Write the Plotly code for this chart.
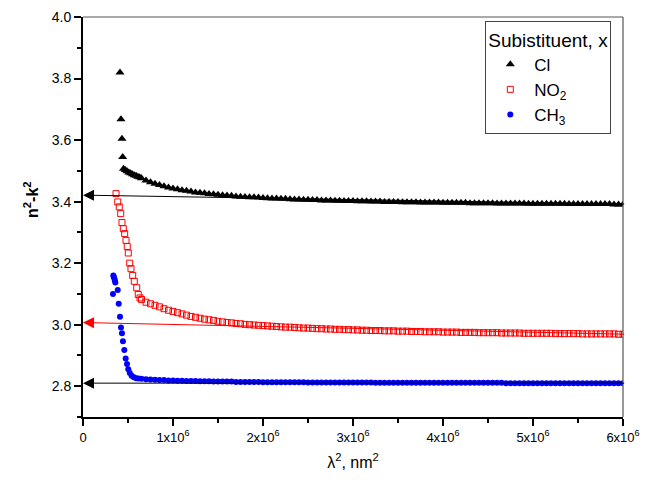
import plotly.graph_objects as go

# ---------------- data (x in units of 1e6 nm^2) ----------------
tail_x = [0.65, 0.70, 0.75, 0.80, 0.85, 0.90, 0.95, 1.00, 1.05, 1.10,
          1.15, 1.20, 1.25, 1.30, 1.35, 1.40, 1.45, 1.50, 1.55, 1.60,
          1.65, 1.70, 1.75, 1.80, 1.85, 1.90, 1.95, 2.00, 2.05, 2.10,
          2.15, 2.20, 2.25, 2.30, 2.35, 2.40, 2.45, 2.50, 2.55, 2.60,
          2.65, 2.70, 2.75, 2.80, 2.85, 2.90, 2.95, 3.00, 3.05, 3.10,
          3.15, 3.20, 3.25, 3.30, 3.35, 3.40, 3.45, 3.50, 3.55, 3.60,
          3.65, 3.70, 3.75, 3.80, 3.85, 3.90, 3.95, 4.00, 4.05, 4.10,
          4.15, 4.20, 4.25, 4.30, 4.35, 4.40, 4.45, 4.50, 4.55, 4.60,
          4.65, 4.70, 4.75, 4.80, 4.85, 4.90, 4.95, 5.00, 5.05, 5.10,
          5.15, 5.20, 5.25, 5.30, 5.35, 5.40, 5.45, 5.50, 5.55, 5.60,
          5.65, 5.70, 5.75, 5.80, 5.85, 5.90, 5.95, 6.00]

cl_head_x = [0.411, 0.422, 0.433, 0.441, 0.45, 0.47, 0.49, 0.51, 0.53, 0.55, 0.57, 0.59, 0.61, 0.63]
cl_head_y = [3.820, 3.668, 3.604, 3.545, 3.507, 3.503, 3.499, 3.495, 3.492, 3.489, 3.486, 3.484, 3.481, 3.479]
cl_tail_y = [3.476, 3.469, 3.463, 3.458, 3.454, 3.450, 3.446, 3.443, 3.440, 3.437,
             3.435, 3.433, 3.430, 3.429, 3.427, 3.425, 3.424, 3.422, 3.421, 3.420,
             3.419, 3.417, 3.416, 3.415, 3.414, 3.414, 3.413, 3.412, 3.411, 3.410,
             3.410, 3.409, 3.409, 3.408, 3.407, 3.407, 3.406, 3.406, 3.405, 3.405,
             3.404, 3.404, 3.404, 3.403, 3.403, 3.402, 3.402, 3.402, 3.401, 3.401,
             3.401, 3.400, 3.400, 3.400, 3.399, 3.399, 3.399, 3.399, 3.398, 3.398,
             3.398, 3.398, 3.397, 3.397, 3.397, 3.397, 3.397, 3.396, 3.396, 3.396,
             3.396, 3.396, 3.396, 3.395, 3.395, 3.395, 3.395, 3.395, 3.395, 3.394,
             3.394, 3.394, 3.394, 3.394, 3.394, 3.394, 3.393, 3.393, 3.393, 3.393,
             3.393, 3.393, 3.393, 3.393, 3.393, 3.392, 3.392, 3.392, 3.392, 3.392,
             3.392, 3.392, 3.392, 3.392, 3.392, 3.391, 3.391, 3.391]

no2_head_x = [0.367, 0.386, 0.403, 0.419, 0.433, 0.448, 0.463, 0.478, 0.492, 0.503,
              0.519, 0.533, 0.552, 0.570, 0.597, 0.614, 0.633]
no2_head_y = [3.426, 3.399, 3.383, 3.361, 3.332, 3.312, 3.296, 3.274, 3.254, 3.233,
              3.200, 3.182, 3.160, 3.141, 3.120, 3.098, 3.087]
no2_tail_y = [3.082, 3.073, 3.068, 3.063, 3.058, 3.052, 3.047, 3.043, 3.039, 3.035,
              3.031, 3.027, 3.024, 3.021, 3.018, 3.016, 3.014, 3.011, 3.009, 3.007,
              3.006, 3.004, 3.003, 3.001, 3.000, 2.999, 2.998, 2.997, 2.996, 2.995,
              2.994, 2.993, 2.992, 2.992, 2.991, 2.990, 2.989, 2.989, 2.988, 2.987,
              2.987, 2.986, 2.986, 2.985, 2.985, 2.984, 2.984, 2.983, 2.983, 2.982,
              2.982, 2.981, 2.981, 2.981, 2.980, 2.980, 2.980, 2.979, 2.979, 2.979,
              2.978, 2.978, 2.978, 2.977, 2.977, 2.977, 2.977, 2.976, 2.976, 2.976,
              2.976, 2.975, 2.975, 2.975, 2.975, 2.974, 2.974, 2.974, 2.974, 2.974,
              2.973, 2.973, 2.973, 2.973, 2.973, 2.972, 2.972, 2.972, 2.972, 2.972,
              2.972, 2.972, 2.971, 2.971, 2.971, 2.971, 2.971, 2.971, 2.970, 2.970,
              2.970, 2.970, 2.970, 2.970, 2.970, 2.970, 2.969, 2.969]

ch3_head_x = [0.337, 0.342, 0.348, 0.354, 0.359, 0.386, 0.333, 0.397, 0.411, 0.422,
              0.433, 0.444, 0.459, 0.474, 0.489, 0.503, 0.520, 0.540, 0.565, 0.590, 0.615]
ch3_head_y = [3.160, 3.156, 3.150, 3.144, 3.137, 3.113, 3.100, 3.068, 3.026, 2.991,
              2.972, 2.946, 2.918, 2.890, 2.872, 2.855, 2.843, 2.834, 2.829, 2.826, 2.825]
ch3_tail_y = [2.824, 2.823, 2.822, 2.821, 2.820, 2.820, 2.819, 2.819, 2.818, 2.818,
              2.817, 2.817, 2.817, 2.816, 2.816, 2.816, 2.815, 2.815, 2.815, 2.815,
              2.815, 2.814, 2.814, 2.814, 2.814, 2.814, 2.814, 2.813, 2.813, 2.813,
              2.813, 2.813, 2.813, 2.813, 2.813, 2.813, 2.813, 2.812, 2.812, 2.812,
              2.812, 2.812, 2.812, 2.812, 2.812, 2.812, 2.812, 2.812, 2.812, 2.812,
              2.812, 2.812, 2.811, 2.811, 2.811, 2.811, 2.811, 2.811, 2.811, 2.811,
              2.811, 2.811, 2.811, 2.811, 2.811, 2.811, 2.811, 2.811, 2.811, 2.811,
              2.811, 2.811, 2.811, 2.811, 2.811, 2.811, 2.811, 2.811, 2.811, 2.811,
              2.811, 2.810, 2.810, 2.810, 2.810, 2.810, 2.810, 2.810, 2.810, 2.810,
              2.810, 2.810, 2.810, 2.810, 2.810, 2.810, 2.810, 2.810, 2.810, 2.810,
              2.810, 2.810, 2.810, 2.810, 2.810, 2.810, 2.810, 2.810]

# extrapolation arrows: value at right end -> value at the axis
arrow_y_left = [3.421, 3.007, 2.810]
arrow_y_right = [3.392, 2.969, 2.810]
arrow_colors = ["black", "red", "black"]

x_tick_vals = [0, 1, 2, 3, 4, 5, 6]
x_tick_text = ["0", "1x10<sup>6</sup>", "2x10<sup>6</sup>", "3x10<sup>6</sup>",
               "4x10<sup>6</sup>", "5x10<sup>6</sup>", "6x10<sup>6</sup>"]
x_minor_vals = [0.5, 1.5, 2.5, 3.5, 4.5, 5.5]

E6 = 1e6
FONT = "Liberation Sans, Arial, sans-serif"

fig = go.Figure()
fig.add_trace(go.Scatter(
    x=[v * E6 for v in cl_head_x + tail_x], y=cl_head_y + cl_tail_y,
    mode="markers", name="Cl",
    marker=dict(symbol="triangle-up", size=8, color="black", line=dict(width=0))))
fig.add_trace(go.Scatter(
    x=[v * E6 for v in no2_head_x + tail_x], y=no2_head_y + no2_tail_y,
    mode="markers", name="NO<sub>2</sub>",
    marker=dict(symbol="square-open", size=6, color="#ff0000", line=dict(width=1, color="#ff0000"))))
fig.add_trace(go.Scatter(
    x=[v * E6 for v in ch3_head_x + tail_x], y=ch3_head_y + ch3_tail_y,
    mode="markers", name="CH<sub>3</sub>",
    marker=dict(symbol="circle", size=6, color="#0000ff", line=dict(width=0))))

for yl, yr, c in zip(arrow_y_left, arrow_y_right, arrow_colors):
    fig.add_annotation(x=0, y=yl, ax=6.03 * E6, ay=yr, xref="x", yref="y",
                       axref="x", ayref="y", text="", showarrow=True,
                       arrowhead=2, arrowsize=2.2, arrowwidth=1, arrowcolor=c,
                       standoff=0, startstandoff=0)

# y-axis title (placed slightly above the centre, as in the reference)
fig.add_annotation(text="<b>n<sup>2</sup>-k<sup>2</sup></b>", xref="paper", yref="paper",
                   x=-0.096, y=0.543, xanchor="center", yanchor="middle",
                   textangle=-90, showarrow=False,
                   font=dict(size=16, family=FONT, color="black"))

# frame (top and right)
fig.add_shape(type="line", xref="paper", yref="paper", x0=0, x1=1, y0=1, y1=1,
              line=dict(color="#555555", width=1.2))
fig.add_shape(type="line", xref="paper", yref="paper", x0=1, x1=1, y0=0, y1=1,
              line=dict(color="#555555", width=1.2))

fig.update_layout(
    width=661, height=484,
    margin=dict(l=83, r=38, t=17, b=67, autoexpand=False),
    paper_bgcolor="white", plot_bgcolor="white",
    font=dict(family=FONT, size=13, color="black"),
    showlegend=True,
    legend=dict(
        x=0.745, y=0.99, xanchor="left", yanchor="top",
        bgcolor="white", bordercolor="#444444", borderwidth=1,
        title=dict(text="Subistituent, x", font=dict(size=19, family=FONT)),
        font=dict(size=17, family=FONT), itemsizing="trace", itemwidth=38,
        tracegroupgap=2),
    xaxis=dict(
        range=[0, 6 * E6], tickmode="array",
        tickvals=[v * E6 for v in x_tick_vals], ticktext=x_tick_text,
        ticks="outside", ticklen=7, tickwidth=1.5, tickcolor="black",
        minor=dict(tickmode="array", tickvals=[v * E6 for v in x_minor_vals],
                   ticks="outside", ticklen=4, tickwidth=1.5, tickcolor="black"),
        showline=True, linecolor="black", linewidth=2,
        showgrid=False, zeroline=False,
        tickfont=dict(size=13),
        title=dict(text="λ<sup>2</sup>, nm<sup>2</sup>", font=dict(size=16), standoff=13)),
    yaxis=dict(
        range=[2.7, 4.0], tick0=2.8, dtick=0.2, tickformat=".1f",
        ticks="outside", ticklen=7, tickwidth=1.5, tickcolor="black",
        minor=dict(dtick=0.1, tick0=2.7, ticks="outside", ticklen=4, tickwidth=1.5, tickcolor="black"),
        showline=True, linecolor="black", linewidth=2,
        showgrid=False, zeroline=False,
        tickfont=dict(size=14)),
)

fig.write_html("out.html")
